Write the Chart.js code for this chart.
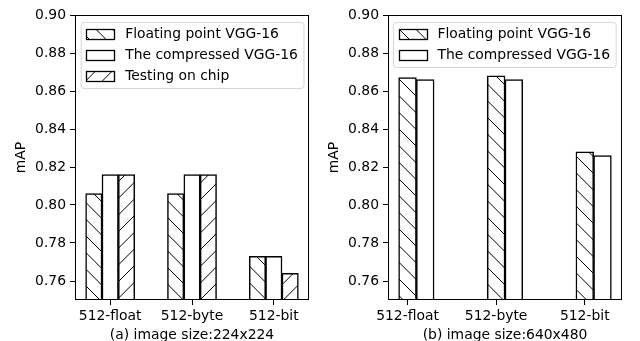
<!DOCTYPE html>
<html>
<head>
<meta charset="utf-8">
<script src="https://cdn.jsdelivr.net/npm/chart.js@4.4.0/dist/chart.umd.min.js"></script>
<style>
  body { margin: 0; background: #fff; }
  #wrap { position: relative; width: 640px; height: 341px; }
  canvas { position: absolute; top: 0; }
</style>
</head>
<body>
<div id="wrap">
  <canvas id="chartA" width="320" height="341" style="left:0"></canvas>
  <canvas id="chartB" width="320" height="341" style="left:320px"></canvas>
</div>
<script>
  // Data
  const categories = ['512-float', '512-byte', '512-bit'];
  const yTicks = [0.76, 0.78, 0.80, 0.82, 0.84, 0.86, 0.88, 0.90];

  const seriesNames = ['Floating point VGG-16', 'The compressed VGG-16', 'Testing on chip'];

  // (a) image size 224x224
  const floatA = [0.806, 0.806, 0.773];
  const compressedA = [0.816, 0.816, 0.773];
  const chipA = [0.816, 0.816, 0.764];

  // (b) image size 640x480
  const floatB = [0.867, 0.868, 0.828];
  const compressedB = [0.866, 0.866, 0.826];

  const FONT = { family: "'DejaVu Sans', sans-serif", size: 13.9 };

  // matplotlib-like hatch tile: 6 lines per 100px
  function makeHatch(ctx, dir) {
    const tile = document.createElement('canvas');
    tile.width = tile.height = 100;
    const g = tile.getContext('2d');
    g.fillStyle = '#fff';
    g.fillRect(0, 0, 100, 100);
    if (dir) {
      g.strokeStyle = '#000';
      g.lineWidth = 1;
      g.beginPath();
      for (let k = -6; k <= 12; k++) {
        const c = k * 100 / 6;
        if (dir === '\\') {
          g.moveTo(-10, -10 + c);
          g.lineTo(110, 110 + c);
        } else {
          g.moveTo(-10, 10 + c);
          g.lineTo(110, c - 110);
        }
      }
      g.stroke();
    }
    return ctx.createPattern(tile, 'repeat');
  }

  // box around the axes + legend inside the plot
  const framePlugin = {
    id: 'frameLegend',
    afterDraw(chart, args, opts) {
      const ctx = chart.ctx;
      const a = chart.chartArea;
      ctx.save();
      ctx.strokeStyle = '#000';
      ctx.lineWidth = 1;
      ctx.strokeRect(a.left + 0.5, a.top + 0.5, a.width - 1, a.height - 1);

      const items = chart.data.datasets;
      ctx.font = FONT.size + 'px ' + FONT.family;
      const textW = Math.max(...items.map(d => ctx.measureText(d.label).width));
      const pad = 5.6, handle = 27.8, gap = 11.1, pitch = 21;
      const w = pad + handle + gap + textW + pad;
      const h = 24 + (items.length - 1) * pitch;
      const x = opts.align === 'right' ? a.right - 6.3 - w : a.left + 5.7;
      const y = a.top + 7;

      ctx.beginPath();
      ctx.roundRect(x + 0.5, y + 0.5, w, h, 3);
      ctx.fillStyle = 'rgba(255,255,255,0.8)';
      ctx.fill();
      ctx.strokeStyle = '#d6d6d6';
      ctx.stroke();

      items.forEach((d, i) => {
        const cy = y + 12 + i * pitch;
        const hx = x + pad;
        ctx.fillStyle = d.backgroundColor;
        ctx.fillRect(hx, cy - 5, handle, 10);
        ctx.strokeStyle = '#000';
        ctx.lineWidth = 1.3;
        ctx.strokeRect(Math.round(hx) + 0.5, Math.round(cy - 5) + 0.5, Math.round(handle), 10);
        ctx.fillStyle = '#000';
        ctx.textAlign = 'left';
        ctx.textBaseline = 'middle';
        ctx.fillText(d.label, hx + handle + gap, cy);
      });
      ctx.restore();
    }
  };

  function buildChart(id, series, offsets, xRange, yWidth, rightPad, titleGap, xTitle, legendAlign) {
    const canvas = document.getElementById(id);
    const ctx = canvas.getContext('2d');
    const hatches = ['\\', '', '/'];

    const datasets = series.map((vals, s) => ({
      label: seriesNames[s],
      data: vals.map((v, i) => ({ x: i + offsets[s], y: v })),
      backgroundColor: makeHatch(ctx, hatches[s]),
      borderColor: '#000',
      borderWidth: 1.5
    }));

    return new Chart(ctx, {
      type: 'bar',
      data: { datasets },
      plugins: [framePlugin],
      options: {
        responsive: false,
        animation: false,
        devicePixelRatio: 1,
        grouped: false,
        categoryPercentage: 1,
        barPercentage: 1,
        layout: { padding: { left: 0, right: rightPad, top: 15, bottom: 0 } },
        plugins: {
          legend: { display: false },
          tooltip: { enabled: false },
          frameLegend: { align: legendAlign }
        },
        scales: {
          x: {
            type: 'linear',
            offset: false,
            min: xRange[0],
            max: xRange[1],
            afterBuildTicks: s => { s.ticks = categories.map((c, i) => ({ value: i })); },
            afterFit: s => { s.height = 41; },
            grid: { offset: false, drawOnChartArea: false, tickLength: 5, color: '#000', lineWidth: 1 },
            border: { display: false },
            ticks: {
              color: '#000',
              font: FONT,
              padding: 3,
              maxRotation: 0,
              callback: (v, i) => categories[i]
            },
            title: {
              display: true,
              text: xTitle,
              color: '#000',
              font: Object.assign({ lineHeight: 1 }, FONT),
              padding: { top: 0, bottom: -1 }
            }
          },
          y: {
            type: 'linear',
            min: 0.75,
            max: 0.90,
            afterBuildTicks: s => { s.ticks = yTicks.map(v => ({ value: v })); },
            afterFit: s => { s.width = yWidth; },
            grid: { drawOnChartArea: false, tickLength: 5, color: '#000', lineWidth: 1 },
            border: { display: false },
            ticks: {
              color: '#000',
              font: FONT,
              padding: 4,
              callback: v => v.toFixed(2)
            },
            title: {
              display: true,
              text: 'mAP',
              color: '#000',
              font: FONT,
              padding: { top: titleGap, bottom: 0 }
            }
          }
        }
      }
    });
  }

  buildChart('chartA', [floatA, compressedA, chipA], [-0.2, 0, 0.2], [-0.43, 2.43],
    75, 11, 13.5, '(a) image size:224x224', 'left');
  buildChart('chartB', [floatB, compressedB], [0, 0.2], [-0.22, 2.42],
    68, 18, 6.5, '(b) image size:640x480', 'right');
</script>
</body>
</html>
